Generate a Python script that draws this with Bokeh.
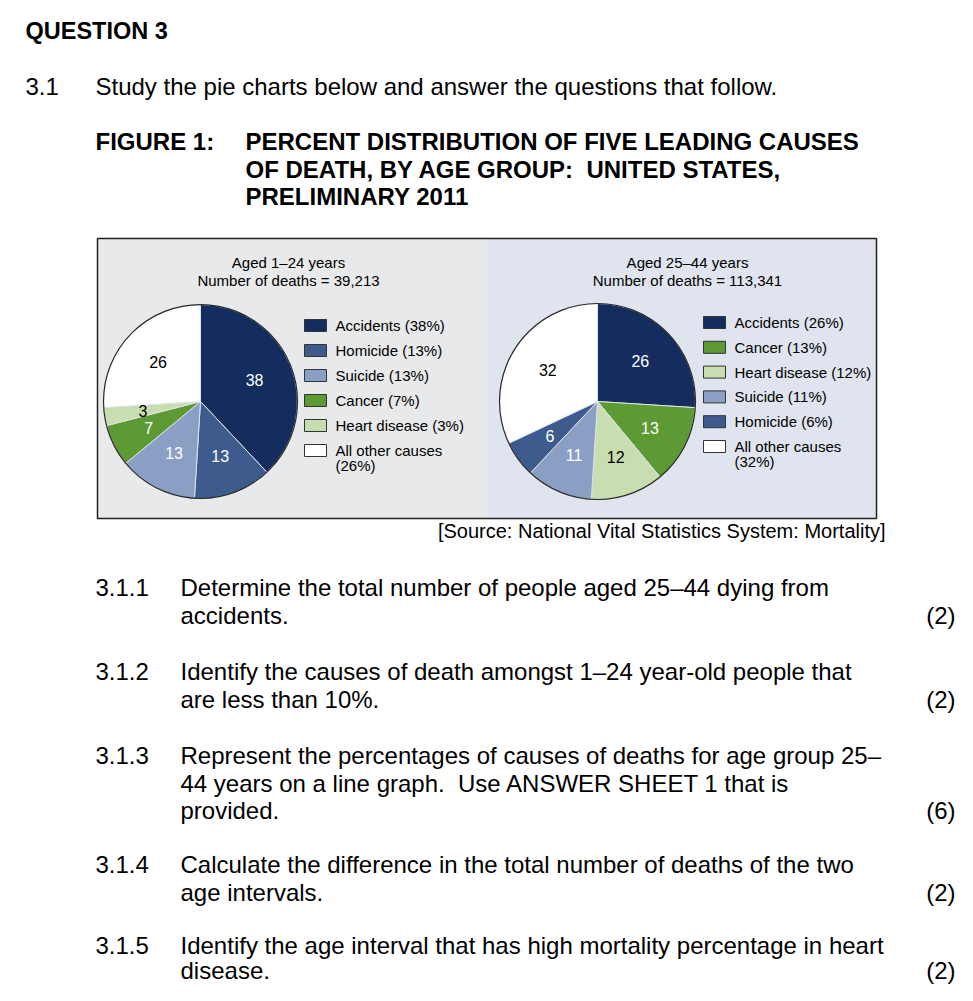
import numpy as np
from bokeh.plotting import figure
from bokeh.models import Range1d, ColumnDataSource
from bokeh.core.properties import value
from bokeh.embed import file_html
from bokeh.resources import INLINE

# ---------------- data ----------------
causes_1_24 = ["Accidents", "Homicide", "Suicide", "Cancer", "Heart disease", "All other causes"]
pct_1_24 = [38, 13, 13, 7, 3, 26]
deaths_1_24 = "39,213"

causes_25_44 = ["Accidents", "Cancer", "Heart disease", "Suicide", "Homicide", "All other causes"]
pct_25_44 = [26, 13, 12, 11, 6, 32]
deaths_25_44 = "113,341"

# ---------------- styles ----------------
COLORS = {
    "Accidents": "#152d5e",
    "Homicide": "#3d5b8d",
    "Suicide": "#8b9fc4",
    "Cancer": "#5e9a34",
    "Heart disease": "#c8deb0",
    "All other causes": "#ffffff",
}
LABEL_COLORS = {
    "Accidents": "white", "Homicide": "white", "Suicide": "white",
    "Cancer": "white", "Heart disease": "black", "All other causes": "black",
}
BODY = "Liberation Sans"
CHART = "Liberation Sans"
CHART_SIZE = "15px"

W, H = 957, 985
p = figure(width=W, height=H, x_range=Range1d(0, W), y_range=Range1d(0, H),
           output_backend="svg", toolbar_location=None, min_border=0,
           background_fill_color="white", border_fill_color="white")
p.axis.visible = False
p.grid.visible = False
p.outline_line_color = None


def Y(sy):
    return H - sy


def txt(xs, ys, texts, size, font=BODY, bold=False, align="left", color="black"):
    p.text(x=xs, y=[Y(v) for v in ys], text=texts, text_font=value(font),
           text_font_size=size, text_font_style="bold" if bold else "normal",
           text_align=align, text_baseline="middle", text_color=color)


NB = "\u00a0"
# ---------------- page text ----------------
txt([25], [30], ["QUESTION 3"], "23.5px", bold=True)
txt([25, 95], [86, 86], ["3.1", "Study the pie charts below and answer the questions that follow."], "24px")
txt([95, 245, 245, 245], [141, 141, 169, 196],
    ["FIGURE 1:", "PERCENT DISTRIBUTION OF FIVE LEADING CAUSES",
     "OF DEATH, BY AGE GROUP:" + NB + " UNITED STATES,", "PRELIMINARY 2011"], "24px", bold=True)

# ---------------- chart panel ----------------
p.quad(left=[97], right=[486], bottom=[Y(518)], top=[Y(238)], fill_color="#e8e9ea", line_color=None)
p.quad(left=[486], right=[876], bottom=[Y(518)], top=[Y(238)], fill_color="#dfe4ee", line_color=None)
p.quad(left=[97], right=[876], bottom=[Y(518)], top=[Y(238)], fill_color=None,
       line_color="#222222", line_width=1.5)


def pie(cx, cy, r, causes, pct, deaths, title, tx, lx, ly0, dy):
    frac = np.array(pct, dtype=float) / sum(pct)
    cum = np.concatenate([[0.0], np.cumsum(frac)])
    start = np.pi / 2 - cum[:-1] * 2 * np.pi
    end = np.pi / 2 - cum[1:] * 2 * np.pi
    mid = (start + end) / 2
    src = ColumnDataSource(dict(start=start, end=end,
                                color=[COLORS[c] for c in causes]))
    p.wedge(x=cx, y=Y(cy), radius=r, start_angle="start", end_angle="end",
            direction="clock", fill_color="color", line_color="#dfe3ea",
            line_width=1, source=src)
    p.circle(x=[cx], y=[Y(cy)], radius=r, fill_color=None, line_color="#2a2a2a", line_width=1.2)
    lr = 0.6 * r
    lab = ColumnDataSource(dict(x=cx + lr * np.cos(mid), y=Y(cy) + lr * np.sin(mid),
                                t=[str(v) for v in pct],
                                c=[LABEL_COLORS[c] for c in causes]))
    p.text(x="x", y="y", text="t", text_color="c", source=lab, text_font=value(CHART),
           text_font_size="16px", text_align="center", text_baseline="middle")
    # title
    txt([tx, tx], [262, 280], [title, "Number of deaths = " + deaths], CHART_SIZE,
        font=CHART, align="center")
    # legend
    rows = [ly0 + i * dy for i in range(len(causes))]
    p.rect(x=[lx + 11] * len(causes), y=[Y(v) for v in rows], width=22, height=12,
           fill_color=[COLORS[c] for c in causes], line_color="#333333", line_width=1)
    labels = []
    for c, v in zip(causes, pct):
        labels.append(c if c == "All other causes" else f"{c} ({v}%)")
    txt([lx + 31] * len(causes), rows, labels, CHART_SIZE, font=CHART)
    txt([lx + 31], [rows[-1] + 15], [f"({pct[-1]}%)"], CHART_SIZE, font=CHART)


pie(200, 401, 97, causes_1_24, pct_1_24, deaths_1_24, "Aged 1\u201324 years", 288, 304, 325, 25)
pie(597, 401, 98, causes_25_44, pct_25_44, deaths_25_44, "Aged 25\u201344 years", 687, 703, 322, 24.8)

txt([885], [530], ["[Source: National Vital Statistics System: Mortality]"], "20px", align="right")

# ---------------- questions ----------------
q_nums = ["3.1.1", "3.1.2", "3.1.3", "3.1.4", "3.1.5"]
q_lines = [
    ["Determine the total number of people aged 25\u201344 dying from", "accidents."],
    ["Identify the causes of death amongst 1\u201324 year-old people that", "are less than 10%."],
    ["Represent the percentages of causes of deaths for age group 25\u2013",
     "44 years on a line graph." + NB + " Use ANSWER SHEET 1 that is", "provided."],
    ["Calculate the difference in the total number of deaths of the two", "age intervals."],
    ["Identify the age interval that has high mortality percentage in heart", "disease."],
]
q_marks = ["(2)", "(2)", "(6)", "(2)", "(2)"]
q_y = [587, 671, 755, 864, 945]
line_gap = 27.6

for num, lines, mark, y0 in zip(q_nums, q_lines, q_marks, q_y):
    ys = [y0 + i * line_gap for i in range(len(lines))]
    if num == "3.1.5":
        ys = [y0, y0 + 25]
    txt([95], [y0], [num], "24px")
    txt([180] * len(lines), ys, lines, "24px")
    txt([955], [ys[-1]], [mark], "24px", align="right")

open("out.html", "w").write(file_html(p, INLINE))
